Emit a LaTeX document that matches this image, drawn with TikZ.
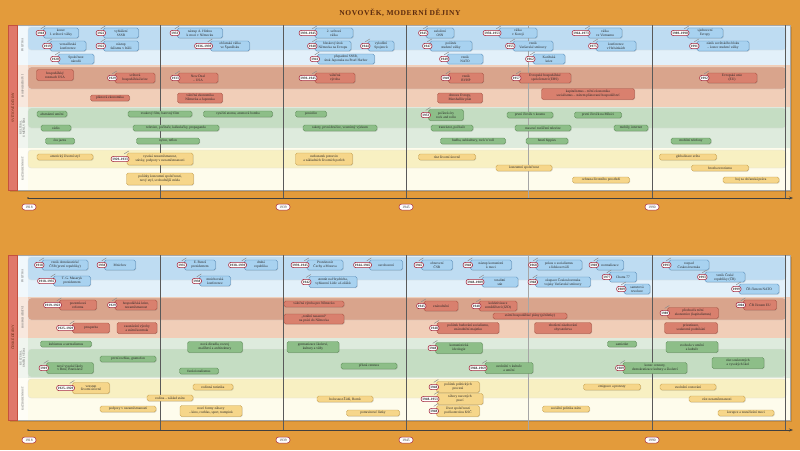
\documentclass[tikz,border=0pt]{standalone}
\usepackage{fontspec}
\setmainfont{Liberation Serif}
\usetikzlibrary{shadows,arrows.meta}
\definecolor{bgO}{HTML}{E39B3B}
\definecolor{titleC}{HTML}{5B2A0E}
\definecolor{polL}{HTML}{E2F0FA}
\definecolor{polD}{HTML}{BEDCF2}
\definecolor{hosL}{HTML}{F1CEB8}
\definecolor{hosD}{HTML}{D9A48C}
\definecolor{kulL}{HTML}{DEEBDD}
\definecolor{kulD}{HTML}{C5DDC3}
\definecolor{kazL}{HTML}{FEFCEC}
\definecolor{kazD}{HTML}{F8F0C2}
\definecolor{evBf}{HTML}{A8D2F0}
\definecolor{evBd}{HTML}{4E86B5}
\definecolor{evRf}{HTML}{D9806E}
\definecolor{evRd}{HTML}{A34B3B}
\definecolor{evGf}{HTML}{8DBE88}
\definecolor{evGd}{HTML}{55864F}
\definecolor{evYf}{HTML}{F6D68A}
\definecolor{evYd}{HTML}{C29A45}
\definecolor{tagR}{HTML}{A3263C}
\definecolor{redbarF}{HTML}{E0786A}
\definecolor{redbarD}{HTML}{C4503F}
\newcommand\evfont{\fontsize{3.5}{3.9}\selectfont}
\newcommand\tagfont{\fontsize{3.4}{3.8}\selectfont\bfseries}
\newcommand\EV[8]{%
  \node[#6, minimum width=#4pt, minimum height=#5pt] (#1) at (#2,#3) {#8};%
  \ifx\relax#7\relax\else
    \draw[pinst] ([xshift=-2.5pt,yshift=-1pt]#1.north west) -- ([xshift=2pt,yshift=1.8pt]#1.north west);%
    \node[tag, anchor=east] (#1t) at ([xshift=2.5pt]#1.west) {#7};%
  \fi}
\begin{document}
\begin{tikzpicture}[x=1pt,y=-1pt,
  evbase/.style={rounded corners=1.6pt, align=center, font=\evfont, inner sep=0.4pt, line width=0.4pt, text=black!85,
    drop shadow={shadow xshift=0.5pt, shadow yshift=-0.6pt, opacity=0.3}},
  evB/.style={evbase, fill=evBf, draw=evBd},
  evR/.style={evbase, fill=evRf, draw=evRd},
  evG/.style={evbase, fill=evGf, draw=evGd},
  evY/.style={evbase, fill=evYf, draw=evYd},
  tag/.style={draw=tagR, line width=0.6pt, fill=white, rounded corners=2.3pt, font=\tagfont,
    inner xsep=1.3pt, inner ysep=0.4pt, minimum height=5.2pt, text=black!85},
  pinst/.style={draw=black!45, line width=0.5pt, line cap=round},
  yearlab/.style={draw=tagR, line width=0.5pt, fill=white, rounded corners=2.8pt, font=\fontsize{3.6}{4}\selectfont,
    inner xsep=2pt, inner ysep=0.6pt, minimum height=6pt, minimum width=14pt, text=black!80},
  rowlab/.style={rotate=90, align=center, font=\fontsize{2.9}{3.3}\selectfont, text=black!65},
  sidebar/.style={rotate=90, fill=redbarF, draw=redbarD, line width=0.4pt, inner sep=0pt,
    font=\fontsize{3.6}{4}\selectfont, text=titleC},
  vline/.style={draw=black!65, line width=0.5pt},
  vlinel/.style={draw=black!35, line width=0.5pt},
  band/.style={rounded corners=3pt, draw=black!12, line width=0.3pt},
  axisl/.style={draw=black!75, line width=0.6pt, -{Stealth[length=4pt,width=3pt]}}
]
\useasboundingbox (0,0) rectangle (800,450);
\fill[bgO] (0,0) rectangle (800,450);
\node[font=\fontsize{7.5}{8.5}\selectfont\bfseries, text=titleC] (title) at (400,12.5)
  {\addfontfeatures{LetterSpace=8}NOVOVĚK, MODERNÍ DĚJINY};

% ---------------- TOP PANEL ----------------
\fill[black,opacity=0.12] (9.5,26.5) rectangle (791.5,191.5);
\fill[polL] (17,25) rectangle (790,65);
\fill[hosL] (17,65) rectangle (790,107);
\fill[kulL] (17,107) rectangle (790,148);
\fill[kazL] (17,148) rectangle (790,190);
\fill[white,opacity=0.55] (17,25) rectangle (28,190);
\path[band, fill=polD] (28,27) rectangle (786,50);
\path[band, fill=hosD] (28,67) rectangle (786,89);
\path[band, fill=kulD] (28,108) rectangle (786,128);
\path[band, fill=kazD] (28,150) rectangle (786,168);
\draw[black!35, line width=0.3pt] (8,25) rectangle (790,190);
\node[sidebar, minimum width=165pt, minimum height=9pt] (sb1) at (12.5,107.5) {SVĚTOVÉ DĚJINY};
\node[rowlab] (rl1) at (22.5,45) {POLITIKA};
\node[rowlab] (rl2) at (22.5,86) {HOSPODÁŘSTVÍ};
\node[rowlab] (rl3) at (22.5,127.5) {KULTURA,\\UMĚNÍ, VĚDA};
\node[rowlab] (rl4) at (22.5,169) {KAŽDODENNOST};
\foreach \x in {160,283,406,652,785} \draw[vline] (\x,25) -- (\x,198);
\draw[vlinel] (528,25) -- (528,198);
\coordinate (axAs) at (28,198);
\coordinate (axAe) at (793,198);
\draw[axisl] (axAs) -- (axAe);
\fill[black!75] (axAs) circle (0.9pt);
\node[yearlab] (ya1) at (29,207) {1918};
\node[yearlab] (ya2) at (283,207) {1939};
\node[yearlab] (ya3) at (406,207) {1945};
\node[yearlab] (ya4) at (652,207) {1990};

% politika
\EV{t1}{61}{33}{35}{10}{evB}{1918}{konec\\I. světové války}
\EV{t2}{68}{46}{36}{10}{evB}{1919}{versailleská\\konference}
\EV{t3}{76}{59}{36}{10}{evB}{1920}{Společnost\\národů}
\EV{t4}{121}{33}{35}{10}{evB}{1922}{vyhlášení\\SSSR}
\EV{t5}{121}{46}{35}{10}{evB}{1922}{nástup\\fašismu v Itálii}
\EV{t6}{200}{33}{45}{10}{evB}{1933}{nástup A. Hitlera\\k moci v Německu}
\EV{t7}{230}{46}{39}{10}{evB}{1936–1939}{občanská válka\\ve Španělsku}
\EV{t8}{334}{33}{38}{10}{evB}{1939–1945}{2. světová\\válka}
\EV{t9}{333}{46}{36}{10}{evB}{1940}{bleskový útok\\Německa na Evropu}
\EV{t10}{381}{46}{26}{10}{evB}{1944}{vylodění\\Spojenců}
\EV{t11}{346}{59}{57}{10}{evB}{1941}{přepadení SSSR,\\útok Japonska na Pearl Harbor}
\EV{t12}{440}{33}{28}{10}{evB}{1945}{založení\\OSN}
\EV{t13}{518}{33}{38}{10}{evB}{1950–1953}{válka\\v Koreji}
\EV{t14}{451}{46}{42}{10}{evB}{1947}{počátek\\studené války}
\EV{t15}{533}{46}{40}{10}{evB}{1955}{vznik\\Varšavské smlouvy}
\EV{t16}{465}{59}{36}{10}{evB}{1949}{vznik\\NATO}
\EV{t17}{549}{59}{32}{10}{evB}{1962}{Karibská\\krize}
\EV{t18}{605}{33}{34}{10}{evB}{1964–1973}{válka\\ve Vietnamu}
\EV{t19}{616}{46}{40}{10}{evB}{1975}{konference\\v Helsinkách}
\EV{t20}{705}{33}{36}{10}{evB}{1989–1990}{sjednocení\\Evropy}
\EV{t21}{723}{46}{52}{10}{evB}{1991}{zánik sovětského bloku\\– konec studené války}
% hospodarstvi
\EV{t22}{55}{75}{37}{11}{evR}{}{hospodářský\\rozmach USA}
\EV{t23}{135}{78}{40}{10}{evR}{1929}{světová\\hospodářská krize}
\EV{t24}{198}{78}{40}{10}{evR}{1933}{New Deal\\– USA}
\EV{t25}{110}{98}{39}{6}{evR}{}{plánová ekonomika}
\EV{t26}{200}{98}{45}{10}{evR}{}{válečná ekonomika\\Německa a Japonska}
\EV{t27}{335}{78}{40}{10}{evR}{1939–1945}{válečná\\výroba}
\EV{t28}{466}{78}{35}{10}{evR}{1949}{vznik\\RVHP}
\EV{t29}{545}{78}{52}{10}{evR}{1957}{Evropské hospodářské\\společenství (EHS)}
\EV{t30}{460}{98}{45}{10}{evR}{}{obnova Evropy,\\Marshallův plán}
\EV{t31}{588}{94}{93}{11}{evR}{}{kapitalismus – tržní ekonomika\\socialismus – státem plánované hospodářství}
\EV{t32}{732}{78}{50}{10}{evR}{1992}{Evropská unie\\(EU)}
% kultura
\EV{t33}{52}{114}{30}{6}{evG}{}{abstraktní umění}
\EV{t34}{56}{128}{30}{6}{evG}{}{rádio}
\EV{t35}{60}{141}{29}{6}{evG}{}{éra jazzu}
\EV{t36}{160}{114}{64}{6}{evG}{}{zvukový film, barevný film}
\EV{t37}{176}{128}{86}{6}{evG}{}{televize, počítače, kalkulačky, propaganda}
\EV{t38}{168}{141}{63}{6}{evG}{}{nylon, teflon}
\EV{t39}{238}{114}{69}{6}{evG}{}{využití atomu, atomová bomba}
\EV{t40}{311}{114}{31}{6}{evG}{}{penicilin}
\EV{t41}{340}{128}{74}{6}{evG}{}{rakety, první družice, vesmírný výzkum}
\EV{t42}{446}{115}{35}{11}{evG}{1953}{počátek éry\\rock and rollu}
\EV{t43}{530}{115}{46}{6}{evG}{}{první člověk v kosmu}
\EV{t44}{598}{115}{47}{6}{evG}{}{první člověk na Měsíci}
\EV{t45}{452}{128}{42}{6}{evG}{}{tranzistor, počítače}
\EV{t46}{543}{128}{56}{6}{evG}{}{masové rozšíření televize}
\EV{t47}{631}{128}{34}{6}{evG}{}{mobily, internet}
\EV{t48}{473}{141}{65}{6}{evG}{}{hudba, subkultury, rock’n’roll}
\EV{t49}{547}{141}{42}{6}{evG}{}{hnutí hippies}
\EV{t50}{691}{141}{40}{6}{evG}{}{mobilní telefony}
% kazdodennost
\EV{t51}{65}{157}{56}{6}{evY}{}{americký životní styl}
\EV{t52}{160}{159}{66}{12}{evY}{1929–1933}{vysoká nezaměstnanost,\\stávky, podpory v nezaměstnanosti}
\EV{t53}{160}{179}{67}{12}{evY}{}{počátky konzumní společnosti,\\nový styl, svobodnější móda}
\EV{t54}{324}{159}{57}{12}{evY}{}{nedostatek potravin\\a základních životních potřeb}
\EV{t55}{447}{157}{57}{6}{evY}{}{růst životní úrovně}
\EV{t56}{524}{168}{56}{6}{evY}{}{konzumní společnost}
\EV{t57}{601}{180}{57}{6}{evY}{}{ochrana životního prostředí}
\EV{t58}{688}{157}{57}{6}{evY}{}{globalizace světa}
\EV{t59}{720}{168}{57}{6}{evY}{}{hrozba terorismu}
\EV{t60}{751}{180}{56}{6}{evY}{}{boj za občanská práva}

% ---------------- BOTTOM PANEL ----------------
\fill[black,opacity=0.12] (9.5,256.5) rectangle (791.5,421.5);
\fill[polL] (17,255) rectangle (790,297);
\fill[hosL] (17,297) rectangle (790,338);
\fill[kulL] (17,338) rectangle (790,378);
\fill[kazL] (17,378) rectangle (790,420);
\fill[white,opacity=0.55] (17,255) rectangle (28,420);
\path[band, fill=polD] (28,257) rectangle (786,280);
\path[band, fill=hosD] (28,298) rectangle (786,320);
\path[band, fill=kulD] (28,349) rectangle (786,377);
\path[band, fill=kazD] (28,379) rectangle (786,398);
\draw[black!35, line width=0.3pt] (8,255) rectangle (790,420);
\node[sidebar, minimum width=165pt, minimum height=9pt] (sb2) at (12.5,337.5) {ČESKÉ DĚJINY};
\node[rowlab] (rl5) at (22.5,276) {POLITIKA};
\node[rowlab] (rl6) at (22.5,317.5) {HOSPODÁŘSTVÍ};
\node[rowlab] (rl7) at (22.5,358) {KULTURA,\\UMĚNÍ, VĚDA};
\node[rowlab] (rl8) at (22.5,399) {KAŽDODENNOST};
\foreach \x in {160,283,406,652,785} \draw[vline] (\x,255) -- (\x,430);
\draw[vlinel] (528,255) -- (528,430);
\coordinate (axBs) at (28,430);
\coordinate (axBe) at (793,430);
\draw[axisl] (axBs) -- (axBe);
\fill[black!75] (axBs) circle (0.9pt);
\node[yearlab] (yb1) at (29,440) {1918};
\node[yearlab] (yb2) at (283,440) {1939};
\node[yearlab] (yb3) at (406,440) {1945};
\node[yearlab] (yb4) at (652,440) {1990};

% politika
\EV{b1}{65}{265}{46}{10}{evB}{1918}{vznik demokratické\\ČSR (první republiky)}
\EV{b2}{120}{265}{31}{10}{evB}{1938}{Mnichov}
\EV{b3}{72}{281}{37}{10}{evB}{1918–1935}{T. G. Masaryk\\prezidentem}
\EV{b4}{200}{265}{31}{10}{evB}{1935}{E. Beneš\\prezidentem}
\EV{b5}{261}{265}{33}{10}{evB}{1938–1939}{druhá\\republika}
\EV{b6}{215}{281}{31}{10}{evB}{1938}{mnichovská\\konference}
\EV{b7}{325}{265}{36}{10}{evB}{1939–1945}{Protektorát\\Čechy a Morava}
\EV{b8}{386}{265}{33}{10}{evB}{1944–1945}{osvobození}
\EV{b9}{333}{282}{48}{11}{evB}{1942}{atentát na Heydricha,\\vyhlazení Lidic a Ležáků}
\EV{b10}{437}{265}{31}{10}{evB}{1945}{obnovení\\ČSR}
\EV{b11}{491}{265}{41}{10}{evB}{1948}{nástup komunistů\\k moci}
\EV{b12}{500}{282}{36}{10}{evB}{1948–1989}{totalitní\\stát}
\EV{b13}{559}{265}{46}{10}{evB}{1968}{pokus o socialismus\\s lidskou tváří}
\EV{b14}{610}{265}{27}{10}{evB}{1969}{normalizace}
\EV{b15}{563}{282}{55}{10}{evB}{1968}{okupace Československa\\vojsky Varšavské smlouvy}
\EV{b16}{623}{277}{27}{10}{evB}{1977}{Charta 77}
\EV{b17}{637}{289}{26}{10}{evB}{1989}{sametová\\revoluce}
\EV{b18}{689}{265}{40}{10}{evB}{1993}{rozpad\\Československa}
\EV{b19}{725}{277}{40}{10}{evB}{1993}{vznik České\\republiky (ČR)}
\EV{b20}{759}{289}{40}{10}{evB}{1999}{ČR členem NATO}
% hospodarstvi
\EV{b21}{78}{305}{37}{10}{evR}{1919–1923}{pozemková\\reforma}
\EV{b22}{136}{305}{42}{10}{evR}{1929}{hospodářská krize,\\nezaměstnanost}
\EV{b23}{91}{328}{37}{10}{evR}{1925–1929}{prosperita}
\EV{b24}{137}{328}{40}{11}{evR}{}{zaostávání výroby\\a státní kontrola}
\EV{b25}{314}{304}{60}{6}{evR}{}{válečná výroba pro Německo}
\EV{b26}{314}{319}{60}{10}{evR}{}{„totální nasazení“\\na práci do Německa}
\EV{b27}{441}{306}{34}{10}{evR}{1945}{znárodnění}
\EV{b28}{498}{306}{38}{10}{evR}{1948}{kolektivizace\\zemědělství (JZD)}
\EV{b29}{530}{316}{74}{6}{evR}{}{státní hospodářské plány (pětiletky)}
\EV{b30}{468}{328}{62}{11}{evR}{1948}{počátek budování socialismu,\\znárodnění majetku}
\EV{b31}{563}{328}{57}{11}{evR}{}{zhoršení zásobování\\obyvatelstva}
\EV{b32}{693}{313}{51}{11}{evR}{1989}{přechod k tržní\\ekonomice (kapitalismus)}
\EV{b33}{760}{305}{33}{10}{evR}{2004}{ČR členem EU}
\EV{b34}{691}{328}{53}{11}{evR}{}{privatizace,\\soukromé podnikání}
% kultura
\EV{b35}{66}{344}{51}{6}{evG}{}{kubismus a surrealismus}
\EV{b36}{128}{359}{56}{6}{evG}{}{první rozhlas, gramofon}
\EV{b37}{70}{368}{47}{11}{evG}{1919}{nové vysoké školy\\v Brně, Bratislavě}
\EV{b38}{215}{347}{55}{11}{evG}{}{nová divadla, rozvoj\\malířství a architektury}
\EV{b39}{199}{371}{39}{6}{evG}{}{funkcionalismus}
\EV{b40}{313}{347}{52}{11}{evG}{}{germanizace školství,\\kultury a vědy}
\EV{b41}{369}{366}{56}{6}{evG}{}{přísná cenzura}
\EV{b42}{459}{348}{47}{11}{evG}{1948}{komunistická\\ideologie}
\EV{b43}{509}{368}{48}{11}{evG}{1968–1969}{uvolnění v kultuře\\a umění}
\EV{b44}{622}{344}{29}{6}{evG}{}{samizdat}
\EV{b45}{655}{368}{64}{11}{evG}{1989}{konec cenzury,\\demokratizace kultury a školství}
\EV{b46}{692}{347}{52}{11}{evG}{}{svoboda v umění\\a kultuře}
\EV{b47}{738}{363}{52}{11}{evG}{}{růst soukromých\\a vysokých škol}
% kazdodennost
\EV{b48}{91}{388}{37}{11}{evY}{1925–1929}{vzestup\\životní úrovně}
\EV{b49}{170}{398}{46}{6}{evY}{}{rodina – základ státu}
\EV{b50}{128}{409}{56}{6}{evY}{}{podpory v nezaměstnanosti}
\EV{b51}{213}{387}{40}{6}{evY}{}{rodinná turistika}
\EV{b52}{211}{411}{62}{11}{evY}{}{nové formy zábavy\\– kino, rozhlas, sport, trampink}
\EV{b53}{345}{399}{56}{6}{evY}{}{holocaust Židů, Romů}
\EV{b54}{373}{413}{53}{6}{evY}{}{potravinové lístky}
\EV{b55}{458}{387}{43}{11}{evY}{1948}{počátek politických\\procesů}
\EV{b56}{460}{399}{46}{11}{evY}{1948–1953}{tábory nucených\\prací}
\EV{b57}{458}{411}{43}{11}{evY}{1948}{život společnosti\\pod kontrolou KSČ}
\EV{b58}{566}{409}{47}{6}{evY}{}{sociální politika státu}
\EV{b59}{612}{387}{57}{6}{evY}{}{emigrace a protesty}
\EV{b60}{688}{387}{56}{6}{evY}{}{uvolnění cestování}
\EV{b61}{717}{399}{56}{6}{evY}{}{růst nezaměstnanosti}
\EV{b62}{746}{413}{56}{6}{evY}{}{korupce a zneužívání moci}
\end{tikzpicture}
\end{document}
